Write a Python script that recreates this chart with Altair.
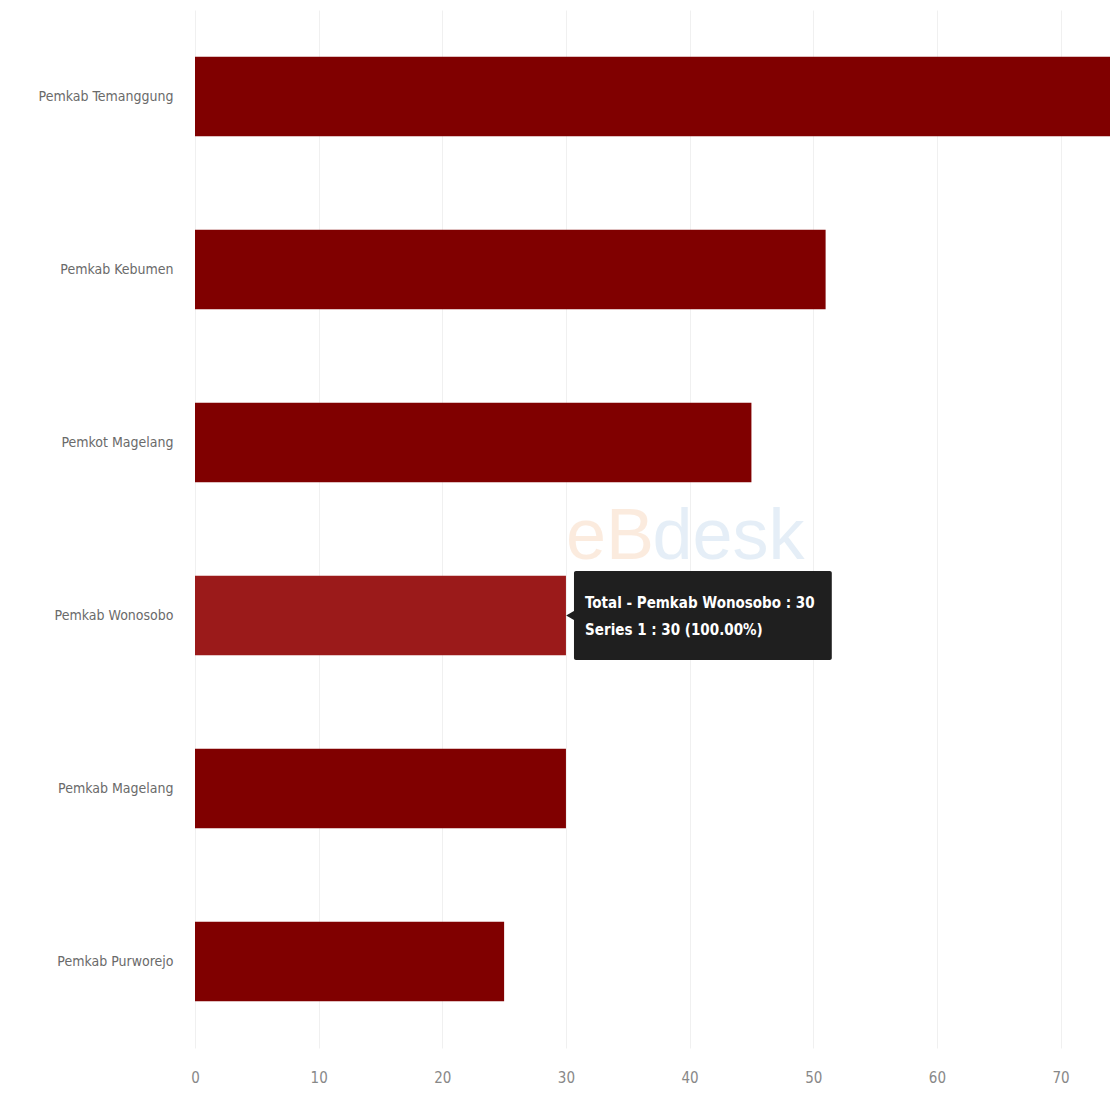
import altair as alt
import pandas as pd

categories = ["Pemkab Temanggung", "Pemkab Kebumen", "Pemkot Magelang",
              "Pemkab Wonosobo", "Pemkab Magelang", "Pemkab Purworejo"]
values = [74, 51, 45, 30, 30, 25]
highlight = "Pemkab Wonosobo"
tick_values = [0, 10, 20, 30, 40, 50, 60, 70]
tooltip_lines = ["Total - Pemkab Wonosobo : 30", "Series 1 : 30 (100.00%)"]

df = pd.DataFrame({"cat": categories, "val": values,
                   "hl": [c == highlight for c in categories]})

FONT = "DejaVu Sans Condensed, Liberation Sans Narrow, Arial Narrow, Liberation Sans"

xscale = alt.Scale(domain=[0, 74], nice=False, zero=True)
yscale = alt.Scale(domain=categories, paddingInner=0.54, paddingOuter=0.27)

bars = alt.Chart(df).mark_bar().encode(
    x=alt.X("val:Q", scale=xscale,
            axis=alt.Axis(values=tick_values, title=None, domain=False, ticks=False,
                          labelColor="#888", labelFontSize=15, labelFont=FONT,
                          labelPadding=22, labelFlush=False,
                          gridColor="#f0f0f0", grid=True)),
    y=alt.Y("cat:N", scale=yscale, sort=categories,
            axis=alt.Axis(title=None, domain=False, ticks=False, grid=False,
                          labelColor="#6a6a6a",
                          labelFontSize=14, labelFont=FONT, labelPadding=22)),
    color=alt.Color("hl:N", scale=alt.Scale(domain=[False, True],
                                              range=["#800000", "#9b1a1a"]), legend=None),
)

wm = pd.DataFrame({"cat": [highlight, highlight], "x": [30.0, 37.0],
                   "t": ["eB", "desk"], "c": ["eb", "desk"]})
watermark = alt.Chart(wm).mark_text(fontSize=72, font="Liberation Sans", align="left",
                                    baseline="alphabetic", dy=-57, opacity=0.2).encode(
    x=alt.X("x:Q", scale=xscale),
    y=alt.Y("cat:N", scale=yscale, sort=categories),
    text="t:N",
    color=alt.Color("c:N", scale=alt.Scale(domain=["eb", "desk"],
                                             range=["#f0a060", "#7fb0d8"]), legend=None),
)

tip = pd.DataFrame({"cat": [highlight], "x": [30.65], "x2": [51.5]})
tipbox = alt.Chart(tip).mark_bar(size=89, color="#1f1f1f", cornerRadius=2).encode(
    x=alt.X("x:Q", scale=xscale),
    x2="x2:Q",
    y=alt.Y("cat:N", scale=yscale, sort=categories),
)
arrow_df = pd.DataFrame({"cat": [highlight], "x": [30.35]})
arrow = alt.Chart(arrow_df).mark_point(shape="triangle-left", filled=True, size=90,
                                       color="#1f1f1f", opacity=1).encode(
    x=alt.X("x:Q", scale=xscale),
    y=alt.Y("cat:N", scale=yscale, sort=categories),
)
txt_df = pd.DataFrame({"cat": [highlight, highlight], "x": [31.55, 31.55],
                       "t": tooltip_lines, "dy": [-13, 14]})
tiptext = alt.layer(*[
    alt.Chart(txt_df.iloc[[i]]).mark_text(align="left", baseline="middle", color="white",
                                          fontSize=15, font=FONT, fontWeight="bold",
                                          dy=int(txt_df.dy[i])).encode(
        x=alt.X("x:Q", scale=xscale),
        y=alt.Y("cat:N", scale=yscale, sort=categories),
        text="t:N")
    for i in range(2)
])

chart = alt.layer(watermark, bars, tipbox, arrow, tiptext).resolve_scale(
    color="independent").properties(
    width=915, height=1038,
    autosize=alt.AutoSizeParams(type="none"),
    padding={"left": 195, "top": 10, "right": 5, "bottom": 54},
).configure(background="white").configure_view(stroke=None)

chart.save("out.html", embed_options={"renderer": "svg", "actions": False})
